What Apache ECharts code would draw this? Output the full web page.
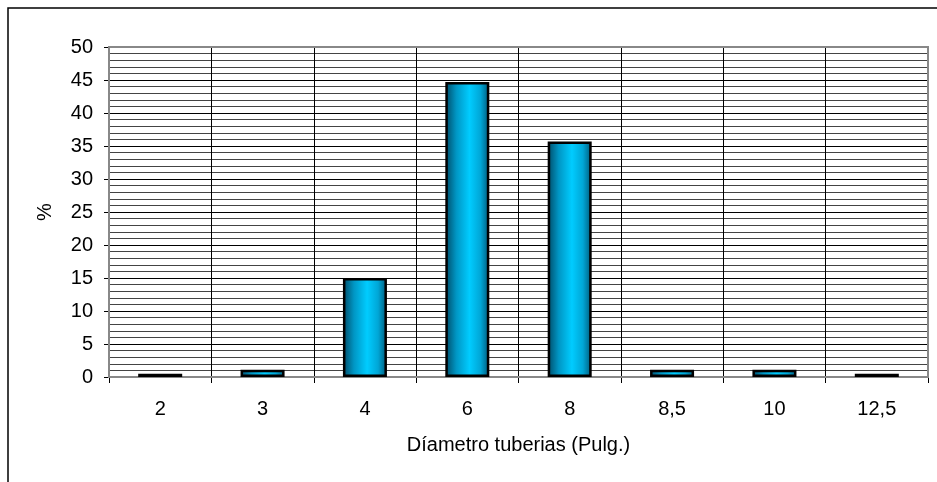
<!DOCTYPE html>
<html>
<head>
<meta charset="utf-8">
<script src="https://cdn.jsdelivr.net/npm/echarts@6/dist/echarts.min.js"></script>
<style>html,body{margin:0;padding:0;background:#fff}#c{width:937px;height:482px}</style>
</head>
<body>
<div id="c"></div>
<script>
const categories = ['2', '3', '4', '6', '8', '8,5', '10', '12,5'];
const percentValues = [0.5, 1.1, 15, 44.7, 35.7, 1.1, 1.1, 0.5];
const yTicks = [0, 5, 10, 15, 20, 25, 30, 35, 40, 45, 50];

const chart = echarts.init(document.getElementById('c'), null, {renderer: 'canvas'});
const font = 'Liberation Sans, Arial, sans-serif';
chart.setOption({
  animation: false,
  backgroundColor: '#fff',
  graphic: [{
    type: 'rect', shape: {x: 8, y: 8, width: 1100, height: 1000},
    style: {fill: 'none', stroke: '#000', lineWidth: 1.5}, z: 0
  }, {
    type: 'rect', shape: {x: 109, y: 47, width: 819, height: 330},
    style: {fill: 'none', stroke: '#888', lineWidth: 2}, z: 1
  }],
  grid: {left: 109, right: 9, top: 47, bottom: 105},
  xAxis: {
    type: 'category',
    data: categories,
    boundaryGap: true,
    name: 'Díametro tuberias (Pulg.)',
    nameLocation: 'middle',
    nameGap: 58,
    nameTextStyle: {fontFamily: font, fontSize: 20, color: '#000'},
    axisLine: {show: true, lineStyle: {color: '#000', width: 1}},
    axisTick: {show: true, length: 6, lineStyle: {color: '#000'}},
    axisLabel: {fontFamily: font, fontSize: 20, color: '#000', margin: 22},
    splitLine: {show: true, lineStyle: {color: '#000', width: 1}}
  },
  yAxis: {
    type: 'value',
    min: 0, max: 50, interval: 5,
    name: '%',
    nameLocation: 'middle',
    nameGap: 54,
    nameRotate: 90,
    nameTextStyle: {fontFamily: font, fontSize: 20, color: '#000'},
    axisLine: {show: true, lineStyle: {color: '#000', width: 2}},
    axisTick: {show: true, length: 5, inside: false, lineStyle: {color: '#000'}},
    axisLabel: {fontFamily: font, fontSize: 20, color: '#000', margin: 16,
      formatter: v => yTicks.includes(v) ? String(v) : ''},
    splitLine: {show: true, lineStyle: {color: '#000', width: 1}},
    minorTick: {show: false, splitNumber: 5},
    minorSplitLine: {show: true, lineStyle: {color: '#444', width: 1}}
  },
  series: [{
    type: 'bar',
    data: percentValues,
    barWidth: '43%',
    itemStyle: {
      borderColor: '#000',
      borderWidth: 2.5,
      color: new echarts.graphic.LinearGradient(0, 0, 1, 0, [
        {offset: 0, color: '#004a66'},
        {offset: 0.25, color: '#0096c4'},
        {offset: 0.55, color: '#00ccff'},
        {offset: 0.8, color: '#00a6d6'},
        {offset: 1, color: '#005878'}
      ])
    },
    z: 3
  }]
});
</script>
</body>
</html>
